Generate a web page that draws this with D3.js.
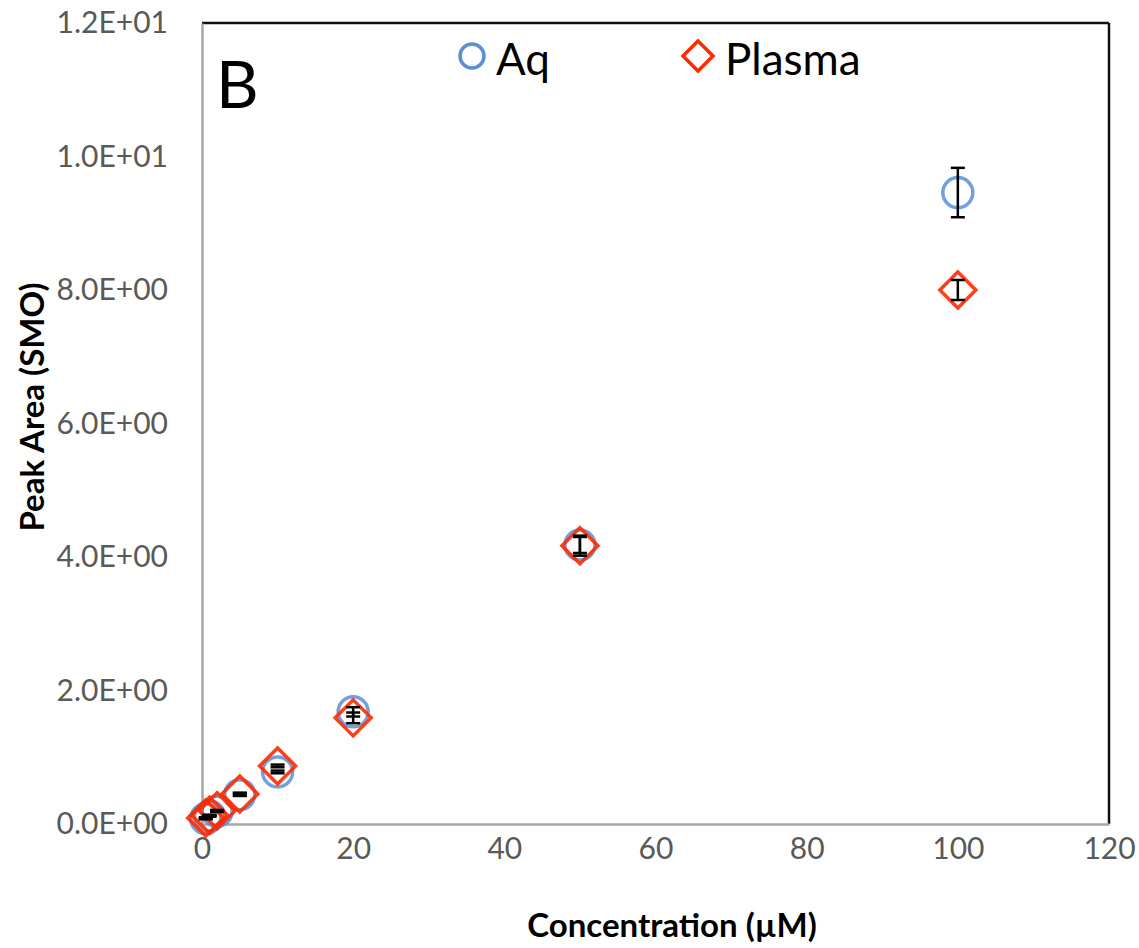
<!DOCTYPE html>
<html><head><meta charset="utf-8">
<script src="https://cdn.jsdelivr.net/npm/d3@7"></script>
<style>body{margin:0;background:#fff}</style>
</head><body><svg id="c" width="1139" height="948"></svg>
<script>
const concentrations = [0.5, 1, 2, 5, 10, 20, 50, 100];
const aqValues = [0.08, 0.12, 0.19, 0.44, 0.78, 1.68, 4.18, 9.46];
const aqErrors = [0.01, 0.01, 0.01, 0.02, 0.02, 0.07, 0.12, 0.37];
const plasmaValues = [0.09, 0.13, 0.2, 0.45, 0.87, 1.59, 4.17, 8.0];
const plasmaErrors = [0.01, 0.01, 0.01, 0.02, 0.02, 0.08, 0.15, 0.15];
const xTicks = [0, 20, 40, 60, 80, 100, 120];
const yTicks = [0, 2, 4, 6, 8, 10, 12];
const seriesNames = ["Aq", "Plasma"];

const svg = d3.select("#c");
const font = "Lato, 'Open Sans', sans-serif";
const x = d3.scaleLinear().domain([0, 120]).range([202, 1109]);
const y = d3.scaleLinear().domain([0, 12]).range([824, 23]);

svg.append("line").attr("x1", x(0)).attr("x2", x(120)).attr("y1", y(12)).attr("y2", y(12)).attr("stroke", "#111").attr("stroke-width", 2.5);
svg.append("line").attr("x1", x(120)).attr("x2", x(120)).attr("y1", y(12)).attr("y2", y(0)).attr("stroke", "#111").attr("stroke-width", 2.5);

const xAxis = svg.append("g").attr("transform", `translate(0,${y(0)})`)
  .call(d3.axisBottom(x).tickValues(xTicks).tickSize(0).tickPadding(14).tickFormat(d3.format("d")));
const yAxis = svg.append("g").attr("transform", `translate(${x(0)},0)`)
  .call(d3.axisLeft(y).tickValues(yTicks).tickSize(0).tickPadding(34).tickFormat(d => d.toExponential(1).replace("e+", "E+0").replace("e-", "E-0")));
[xAxis, yAxis].forEach(g => {
  g.select(".domain").attr("stroke", "#a6a6a6").attr("stroke-width", 2.5);
  g.selectAll("text").attr("fill", "#595959").attr("font-family", font).attr("font-size", 30);
});

svg.append("text").attr("x", 672).attr("y", 937).attr("text-anchor", "middle")
  .attr("font-family", font).attr("font-weight", "bold").attr("font-size", 33).text("Concentration (µM)");
svg.append("text").attr("transform", "translate(44,407) rotate(-90)").attr("text-anchor", "middle")
  .attr("font-family", font).attr("font-weight", "bold").attr("font-size", 33).text("Peak Area (SMO)");

svg.append("text").attr("x", 216).attr("y", 108).attr("font-family", font).attr("font-size", 66).attr("fill", "#000").text("B");

const blue = "#5b8ed6", red = "#ff2a00";
const diamond = s => `M0,${-s}L${s},0L0,${s}L${-s},0Z`;

svg.append("g").selectAll("circle").data(concentrations).join("circle")
  .attr("cx", d => x(d)).attr("cy", (d, i) => y(aqValues[i])).attr("r", 15)
  .attr("fill", "none").attr("stroke", blue).attr("stroke-width", 3.5).attr("stroke-opacity", 0.85);
svg.append("g").selectAll("path").data(concentrations).join("path")
  .attr("transform", (d, i) => `translate(${x(d)},${y(plasmaValues[i])})`)
  .attr("d", diamond(18)).attr("fill", "none").attr("stroke", red).attr("stroke-width", 3.5).attr("stroke-opacity", 0.9);

function errBars(vals, errs) {
  const g = svg.append("g").attr("stroke", "#000").attr("stroke-width", 2.5);
  concentrations.forEach((c, i) => {
    const cx = x(c), y1 = y(vals[i] - errs[i]), y2 = y(vals[i] + errs[i]);
    g.append("line").attr("x1", cx).attr("x2", cx).attr("y1", y1).attr("y2", y2);
    g.append("line").attr("x1", cx - 7).attr("x2", cx + 7).attr("y1", y1).attr("y2", y1);
    g.append("line").attr("x1", cx - 7).attr("x2", cx + 7).attr("y1", y2).attr("y2", y2);
  });
}
errBars(aqValues, aqErrors);
errBars(plasmaValues, plasmaErrors);

const leg = svg.append("g");
leg.append("circle").attr("cx", 472).attr("cy", 56).attr("r", 12).attr("fill", "none").attr("stroke", blue).attr("stroke-width", 3.5);
leg.append("text").attr("x", 496).attr("y", 75).attr("font-family", font).attr("font-size", 44).text(seriesNames[0]);
leg.append("path").attr("transform", "translate(698,56)").attr("d", diamond(15)).attr("fill", "none").attr("stroke", red).attr("stroke-width", 3.5);
leg.append("text").attr("x", 725).attr("y", 75).attr("font-family", font).attr("font-size", 44).text(seriesNames[1]);
</script></body></html>
